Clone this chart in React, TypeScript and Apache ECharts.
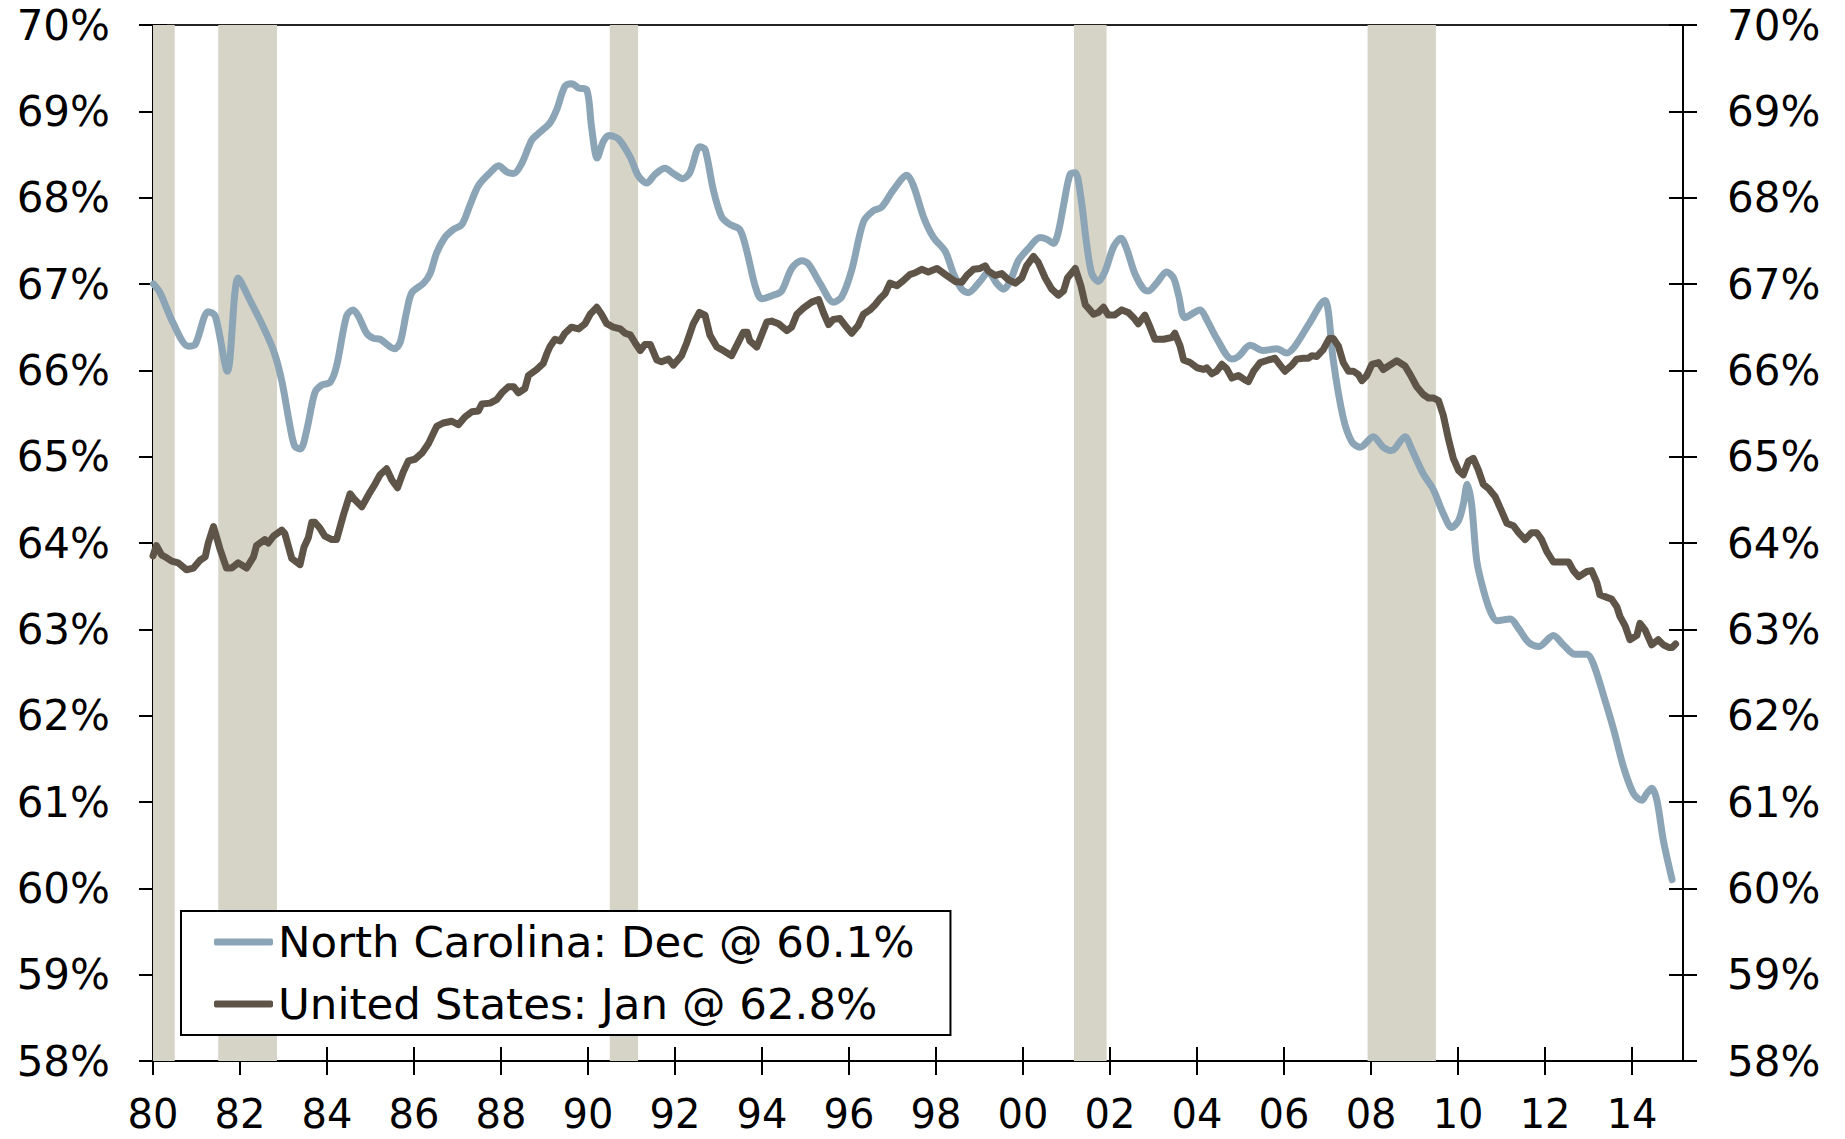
import React, { useEffect, useRef } from "react";
import * as echarts from "echarts";

const FONT = "'DejaVu Sans', sans-serif";

const xTickYears = [1980, 1982, 1984, 1986, 1988, 1990, 1992, 1994, 1996, 1998, 2000, 2002, 2004, 2006, 2008, 2010, 2012, 2014];
const xMin = 1980;
const xMax = 2015.17;
const yMin = 58;
const yMax = 70;
const yStep = 1;

const recessions: [number, number][] = [
  [1980.0, 1980.5],
  [1981.5, 1982.85],
  [1990.5, 1991.15],
  [2001.17, 2001.92],
  [2007.92, 2009.49],
];

const legendNames = ["North Carolina: Dec @ 60.1%", "United States: Jan @ 62.8%"];

const ncYears = [
  1980.01, 1980.16, 1980.47, 1980.81, 1980.97, 1981.27, 1981.43, 1981.71, 1981.96, 1982.23,
  1982.5, 1982.77, 1982.96, 1983.15, 1983.26, 1983.39, 1983.53, 1983.72, 1983.88, 1984.07,
  1984.22, 1984.45, 1984.6, 1984.72, 1984.91, 1985.07, 1985.22, 1985.55, 1985.68, 1985.83,
  1985.95, 1986.22, 1986.37, 1986.52, 1986.71, 1986.9, 1987.1, 1987.29, 1987.48, 1987.75,
  1987.94, 1988.13, 1988.29, 1988.48, 1988.71, 1988.9, 1989.13, 1989.28, 1989.47, 1989.63,
  1989.78, 1989.97, 1990.08, 1990.21, 1990.35, 1990.48, 1990.7, 1990.97, 1991.16, 1991.35,
  1991.54, 1991.77, 1991.96, 1992.18, 1992.34, 1992.57, 1992.69, 1992.88, 1993.07, 1993.26,
  1993.49, 1993.65, 1993.84, 1993.99, 1994.26, 1994.45, 1994.68, 1994.91, 1995.07, 1995.33,
  1995.64, 1995.83, 1996.06, 1996.33, 1996.56, 1996.75, 1997.02, 1997.33, 1997.48, 1997.71,
  1997.94, 1998.21, 1998.4, 1998.59, 1998.74, 1999.01, 1999.2, 1999.39, 1999.55, 1999.7,
  1999.89, 2000.12, 2000.39, 2000.54, 2000.7, 2000.81, 2000.93, 2001.08, 2001.2, 2001.33,
  2001.46, 2001.58, 2001.73, 2001.88, 2002.08, 2002.25, 2002.38, 2002.57, 2002.77, 2002.88,
  2003.07, 2003.3, 2003.46, 2003.58, 2003.72, 2004.07, 2004.22, 2004.45, 2004.8, 2004.95,
  2005.22, 2005.52, 2005.83, 2006.06, 2006.25, 2006.6, 2006.94, 2007.02, 2007.13, 2007.36,
  2007.56, 2007.75, 2008.05, 2008.28, 2008.47, 2008.78, 2008.93, 2009.2, 2009.43, 2009.66,
  2009.85, 2010.01, 2010.12, 2010.21, 2010.31, 2010.43, 2010.58, 2010.74, 2010.89, 2011.2,
  2011.39, 2011.62, 2011.85, 2012.19, 2012.42, 2012.69, 2012.96, 2013.11, 2013.34, 2013.57,
  2013.8, 2014.03, 2014.22, 2014.34, 2014.45, 2014.57, 2014.72, 2014.92,
];
const ncValues = [
  67.0, 66.9, 66.54, 66.28, 66.3, 66.68, 66.63, 65.99, 67.07, 66.81,
  66.54, 66.23, 65.88, 65.35, 65.12, 65.09, 65.3, 65.74, 65.83, 65.86,
  66.05, 66.63, 66.7, 66.63, 66.43, 66.37, 66.36, 66.25, 66.32, 66.68,
  66.9, 67.01, 67.12, 67.36, 67.54, 67.63, 67.69, 67.92, 68.14, 68.29,
  68.37, 68.3, 68.28, 68.4, 68.67, 68.76, 68.87, 69.02, 69.29, 69.32,
  69.27, 69.25, 68.82, 68.46, 68.65, 68.72, 68.68, 68.47, 68.25, 68.17,
  68.27, 68.34, 68.28, 68.22, 68.29, 68.59, 68.56, 68.09, 67.78, 67.69,
  67.63, 67.38, 66.98, 66.83, 66.87, 66.92, 67.18, 67.27, 67.23, 67.01,
  66.79, 66.85, 67.16, 67.72, 67.85, 67.89, 68.09, 68.26, 68.14, 67.78,
  67.54, 67.38, 67.12, 66.94, 66.9, 67.03, 67.14, 67.01, 66.94, 67.03,
  67.27, 67.41, 67.54, 67.52, 67.47, 67.6, 67.91, 68.27, 68.29, 68.0,
  67.47, 67.12, 67.03, 67.14, 67.43, 67.53, 67.41, 67.12, 66.94, 66.92,
  67.01, 67.14, 67.07, 66.86, 66.61, 66.7, 66.59, 66.37, 66.13, 66.16,
  66.29, 66.23, 66.25, 66.2, 66.28, 66.56, 66.81, 66.67, 66.12, 65.45,
  65.17, 65.11, 65.23, 65.11, 65.07, 65.23, 65.09, 64.8, 64.62, 64.34,
  64.18, 64.26, 64.45, 64.68, 64.45, 63.79, 63.46, 63.21, 63.1, 63.12,
  63.01, 62.85, 62.8, 62.93, 62.82, 62.71, 62.71, 62.6, 62.24, 61.85,
  61.41, 61.1, 61.02, 61.1, 61.16, 61.02, 60.55, 60.1,
];

const usYears = [
  1980.0, 1980.08, 1980.2, 1980.28, 1980.43, 1980.58, 1980.77, 1980.93, 1981.08, 1981.2,
  1981.27, 1981.39, 1981.54, 1981.69, 1981.81, 1981.96, 1982.15, 1982.31, 1982.38, 1982.57,
  1982.65, 1982.77, 1982.96, 1983.03, 1983.19, 1983.38, 1983.47, 1983.57, 1983.65, 1983.72,
  1983.84, 1983.95, 1984.11, 1984.22, 1984.38, 1984.53, 1984.64, 1984.8, 1984.99, 1985.1,
  1985.22, 1985.37, 1985.49, 1985.62, 1985.75, 1985.87, 1986.02, 1986.18, 1986.33, 1986.52,
  1986.67, 1986.87, 1987.02, 1987.17, 1987.33, 1987.48, 1987.56, 1987.75, 1987.9, 1988.02,
  1988.17, 1988.29, 1988.4, 1988.55, 1988.63, 1988.82, 1988.97, 1989.05, 1989.13, 1989.24,
  1989.36, 1989.47, 1989.62, 1989.78, 1989.93, 1990.05, 1990.2, 1990.31, 1990.43, 1990.58,
  1990.74, 1990.85, 1990.97, 1991.08, 1991.2, 1991.31, 1991.43, 1991.58, 1991.69, 1991.85,
  1991.96, 1992.15, 1992.27, 1992.42, 1992.56, 1992.69, 1992.8, 1992.96, 1993.07, 1993.3,
  1993.46, 1993.57, 1993.66, 1993.72, 1993.88, 1993.99, 1994.11, 1994.22, 1994.38, 1994.57,
  1994.68, 1994.8, 1994.95, 1995.14, 1995.3, 1995.41, 1995.53, 1995.64, 1995.79, 1995.91,
  1996.06, 1996.21, 1996.33, 1996.48, 1996.6, 1996.71, 1996.83, 1996.94, 1997.1, 1997.25,
  1997.4, 1997.52, 1997.67, 1997.82, 1998.02, 1998.24, 1998.44, 1998.59, 1998.71, 1998.86,
  1999.01, 1999.13, 1999.2, 1999.36, 1999.51, 1999.66, 1999.82, 1999.97, 2000.08, 2000.24,
  2000.35, 2000.51, 2000.66, 2000.81, 2000.93, 2001.02, 2001.2, 2001.33, 2001.43, 2001.5,
  2001.62, 2001.73, 2001.85, 2001.96, 2002.1, 2002.27, 2002.42, 2002.54, 2002.65, 2002.8,
  2002.92, 2003.03, 2003.23, 2003.42, 2003.49, 2003.61, 2003.69, 2003.84, 2004.0, 2004.15,
  2004.22, 2004.34, 2004.45, 2004.57, 2004.68, 2004.8, 2004.95, 2005.1, 2005.18, 2005.3,
  2005.45, 2005.64, 2005.79, 2005.91, 2006.02, 2006.18, 2006.29, 2006.44, 2006.56, 2006.64,
  2006.75, 2006.9, 2007.04, 2007.13, 2007.25, 2007.36, 2007.48, 2007.59, 2007.71, 2007.79,
  2007.9, 2008.02, 2008.17, 2008.28, 2008.4, 2008.59, 2008.78, 2008.9, 2009.05, 2009.2,
  2009.32, 2009.43, 2009.55, 2009.66, 2009.78, 2009.89, 2010.01, 2010.12, 2010.24, 2010.35,
  2010.47, 2010.58, 2010.7, 2010.85, 2011.0, 2011.12, 2011.27, 2011.39, 2011.54, 2011.69,
  2011.81, 2011.92, 2012.04, 2012.19, 2012.38, 2012.54, 2012.65, 2012.77, 2012.96, 2013.07,
  2013.19, 2013.26, 2013.42, 2013.53, 2013.65, 2013.72, 2013.84, 2013.95, 2014.11, 2014.18,
  2014.3, 2014.45, 2014.6, 2014.72, 2014.84, 2014.92, 2015.0,
];
const usValues = [
  63.85, 63.97, 63.86, 63.84, 63.79, 63.77, 63.69, 63.71, 63.8, 63.84,
  64.0, 64.19, 63.93, 63.71, 63.71, 63.77, 63.71, 63.84, 63.97, 64.04,
  64.0, 64.08, 64.15, 64.11, 63.82, 63.75, 63.95, 64.06, 64.24, 64.24,
  64.17, 64.08, 64.04, 64.04, 64.33, 64.57, 64.5, 64.42, 64.59, 64.68,
  64.79, 64.86, 64.73, 64.64, 64.82, 64.95, 64.97, 65.04, 65.15, 65.35,
  65.39, 65.41, 65.37, 65.46, 65.52, 65.53, 65.61, 65.62, 65.66, 65.74,
  65.81, 65.81, 65.74, 65.79, 65.94, 66.01, 66.08, 66.19, 66.28, 66.36,
  66.34, 66.43, 66.5, 66.48, 66.54, 66.65, 66.73, 66.65, 66.54, 66.5,
  66.48, 66.43, 66.41, 66.32, 66.23, 66.3, 66.3, 66.12, 66.1, 66.13,
  66.06, 66.17, 66.32, 66.54, 66.67, 66.64, 66.41, 66.27, 66.24, 66.17,
  66.33, 66.44, 66.44, 66.34, 66.27, 66.41, 66.56, 66.57, 66.54, 66.46,
  66.5, 66.65, 66.72, 66.79, 66.82, 66.67, 66.53, 66.59, 66.6, 66.52,
  66.43, 66.52, 66.65, 66.7, 66.76, 66.83, 66.89, 67.01, 66.98, 67.04,
  67.11, 67.13, 67.17, 67.14, 67.18, 67.1, 67.03, 67.02, 67.1, 67.17,
  67.18, 67.21, 67.15, 67.1, 67.12, 67.05, 67.01, 67.07, 67.21, 67.32,
  67.25, 67.07, 66.94, 66.87, 66.92, 67.07, 67.18, 66.98, 66.76, 66.72,
  66.65, 66.67, 66.73, 66.64, 66.64, 66.7, 66.67, 66.61, 66.54, 66.64,
  66.5, 66.36, 66.36, 66.38, 66.43, 66.28, 66.12, 66.09, 66.03, 66.01,
  66.03, 65.96, 65.99, 66.07, 66.02, 65.91, 65.94, 65.89, 65.87, 65.99,
  66.09, 66.12, 66.14, 66.06, 65.99, 66.06, 66.13, 66.14, 66.14, 66.17,
  66.16, 66.24, 66.37, 66.37, 66.28, 66.09, 65.99, 65.99, 65.95, 65.88,
  65.94, 66.07, 66.09, 66.01, 66.05, 66.11, 66.05, 65.95, 65.81, 65.72,
  65.68, 65.68, 65.65, 65.48, 65.2, 64.98, 64.84, 64.79, 64.95, 64.98,
  64.84, 64.68, 64.63, 64.54, 64.37, 64.23, 64.2, 64.12, 64.04, 64.12,
  64.12, 64.04, 63.9, 63.78, 63.78, 63.78, 63.68, 63.61, 63.67, 63.68,
  63.54, 63.4, 63.37, 63.35, 63.26, 63.15, 63.04, 62.88, 62.93, 63.07,
  62.99, 62.82, 62.88, 62.82, 62.79, 62.79, 62.83,
];

const NC_COLOR = "#8CA5B6";
const US_COLOR = "#5E5448";
const BAND_COLOR = "#D6D3C7";

export default function App() {
  const ref = useRef<HTMLDivElement>(null);

  useEffect(() => {
    if (!ref.current) return;
    const chart = echarts.init(ref.current, undefined, { renderer: "svg" });

    const ncData = ncYears.map((x, i) => [x, ncValues[i]]);
    const usData = usYears.map((x, i) => [x, usValues[i]]);

    const xLabelFmt = (v: number) => {
      const yy = Math.round(v) % 100;
      return yy < 10 ? "0" + yy : String(yy);
    };

    const baseX = {
      type: "value" as const,
      min: xMin,
      max: xMax,
      splitLine: { show: false },
    };
    const baseY = {
      type: "value" as const,
      min: yMin,
      max: yMax,
      interval: yStep,
      splitLine: { show: false },
    };
    const tickLine = { color: "#000", width: 2 };

    chart.setOption({
      animation: false,
      backgroundColor: "#ffffff",
      grid: { left: 153, right: 162, top: 25, bottom: 78, containLabel: false, outerBoundsMode: "none" },
      xAxis: [
        {
          ...baseX,
          position: "bottom",
          axisLine: { show: true, lineStyle: { color: "#000", width: 2 } },
          axisTick: { show: true, length: 14, lineStyle: tickLine, customValues: xTickYears },
          axisLabel: {
            show: true,
            customValues: xTickYears,
            formatter: xLabelFmt,
            fontSize: 40,
            lineHeight: 40,
            fontFamily: FONT,
            color: "#000",
            margin: 33,
          },
        },
        {
          ...baseX,
          position: "bottom",
          axisLine: { show: false },
          axisTick: { show: true, inside: true, length: 14, lineStyle: tickLine, customValues: xTickYears },
          axisLabel: { show: false },
        },
        {
          ...baseX,
          position: "top",
          axisLine: { show: true, lineStyle: { color: "#222", width: 2 } },
          axisTick: { show: false },
          axisLabel: { show: false },
        },
      ],
      yAxis: [
        {
          ...baseY,
          position: "left",
          axisLine: { show: true, lineStyle: { color: "#000", width: 2 } },
          axisTick: { show: true, length: 14, lineStyle: tickLine },
          axisLabel: { formatter: "{value}%", fontSize: 42, fontFamily: FONT, color: "#000", margin: 43 },
        },
        {
          ...baseY,
          position: "left",
          axisLine: { show: false },
          axisTick: { show: true, inside: true, length: 14, lineStyle: tickLine },
          axisLabel: { show: false },
        },
        {
          ...baseY,
          position: "right",
          axisLine: { show: true, lineStyle: { color: "#000", width: 2 } },
          axisTick: { show: true, length: 14, lineStyle: tickLine },
          axisLabel: { formatter: "{value}%", fontSize: 42, fontFamily: FONT, color: "#000", margin: 44 },
        },
        {
          ...baseY,
          position: "right",
          axisLine: { show: false },
          axisTick: { show: true, inside: true, length: 14, lineStyle: tickLine },
          axisLabel: { show: false },
        },
      ],
      legend: {
        show: true,
        orient: "vertical",
        left: 181,
        top: 911,
        padding: [9, 36, 9, 33],
        itemGap: 18,
        itemWidth: 59,
        itemHeight: 7,
        backgroundColor: "#ffffff",
        borderColor: "#000",
        borderWidth: 2,
        borderRadius: 0,
        textStyle: { fontSize: 43.5, fontFamily: FONT, color: "#000" },
        data: [
          { name: legendNames[0], icon: "roundRect" },
          { name: legendNames[1], icon: "roundRect" },
        ],
      },
      series: [
        {
          name: legendNames[0],
          type: "line",
          xAxisIndex: 0,
          yAxisIndex: 0,
          data: ncData,
          smooth: 0.3,
          showSymbol: false,
          symbol: "none",
          z: 3,
          itemStyle: { color: NC_COLOR },
          lineStyle: { color: NC_COLOR, width: 7, cap: "round", join: "round" },
          markArea: {
            silent: true,
            z: 1,
            itemStyle: { color: BAND_COLOR, borderWidth: 0 },
            data: recessions.map(([a, b]) => [{ xAxis: a }, { xAxis: b }]),
          },
        },
        {
          name: legendNames[1],
          type: "line",
          xAxisIndex: 0,
          yAxisIndex: 0,
          data: usData,
          showSymbol: false,
          symbol: "none",
          z: 4,
          itemStyle: { color: US_COLOR },
          lineStyle: { color: US_COLOR, width: 7, cap: "round", join: "round" },
        },
      ],
    });

    return () => {
      chart.dispose();
    };
  }, []);

  return (
    <div
      ref={ref}
      style={{ position: "fixed", left: 0, top: 0, width: 1845, height: 1139, background: "#fff" }}
    />
  );
}
